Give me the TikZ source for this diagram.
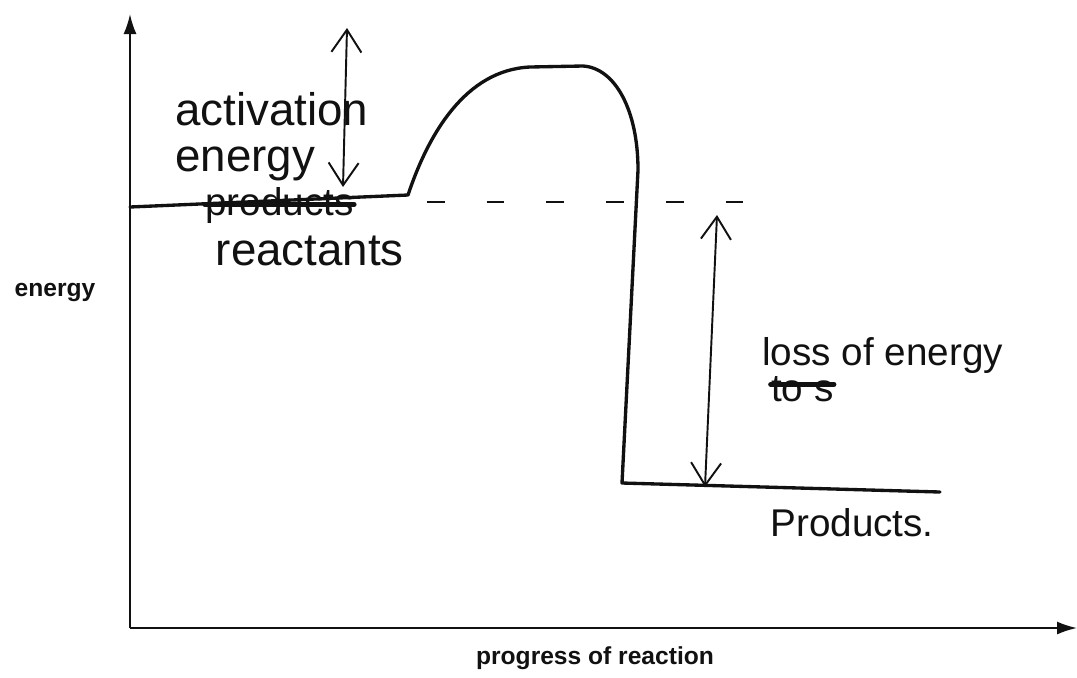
\documentclass[tikz,border=0pt]{standalone}
\usepackage{fontspec}
\setmainfont{Liberation Sans}
\usetikzlibrary{arrows.meta, positioning}
\definecolor{inkdark}{HTML}{111111}
\tikzset{
  axisline/.style={-{Latex[length=4mm, width=2.6mm]}, line width=1.1pt, inkdark},
  curve/.style={line width=1.9pt, inkdark, line join=round, line cap=round},
  level/.style={dash pattern=on 10pt off 24pt, line width=1.1pt, inkdark},
  span/.style={{Straight Barb[length=4.5mm, width=6mm]}-{Straight Barb[length=4.5mm, width=6mm]},
    line width=1.1pt, inkdark},
  axlabel/.style={font=\bfseries\fontsize{14}{16}\selectfont, text=inkdark, inner sep=0pt},
  hand/.style={font=\fontsize{26}{28}\selectfont, text=inkdark, inner sep=0pt},
  handsm/.style={font=\fontsize{22}{24}\selectfont, text=inkdark, inner sep=0pt},
  strike/.style={line width=3pt, inkdark, line cap=round},
}

\begin{document}
\begin{tikzpicture}[x=0.02cm, y=-0.02cm]
        \useasboundingbox (0,0) rectangle (1077,677);
        % axes
        \coordinate (orig) at (130,628);
        \coordinate (ytop) at (130,14);
        \coordinate (xend) at (1077,628);
        \draw[axisline] (orig) -- (ytop);
        \draw[axisline] (orig) -- (xend);
        \node[axlabel] (ylab) at (55,292) {energy};
        \node[axlabel] (xlab) at (595,658) {progress of reaction};
        % energy profile
        \coordinate (r0) at (130,207);
        \coordinate (r1) at (408,195);
        \coordinate (pkl) at (530,67);
        \coordinate (pkr) at (583,66);
        \coordinate (dn) at (638,170);
        \coordinate (p0) at (622,483);
        \coordinate (p1) at (940,492);
        \draw[curve] (r0) -- (r1) .. controls (428,135) and (465,70) .. (pkl) -- (pkr)
          .. controls (615,68) and (638,110) .. (dn) -- (p0) -- (p1);
        \coordinate (d0) at (427,202);
        \coordinate (d1) at (752,202);
        \draw[level] (d0) -- (d1);
        % arrows
        \coordinate (aTop) at (347,28);
        \coordinate (aBot) at (343,187);
        \coordinate (lTop) at (717,215);
        \coordinate (lBot) at (705,487);
        \draw[span] (aTop) -- (aBot);
        \draw[span] (lTop) -- (lBot);
        % handwritten labels
        \node[hand, anchor=base west] (act) at (175,125) {activation};
        \node[hand, below=12pt of act.south west, anchor=north west] (acten) {energy};
        \node[handsm, anchor=base west] (prodold) at (205,215) {products};
        \draw[strike] ([yshift=6pt]prodold.base west) -- ([yshift=6pt]prodold.base east);
        \node[hand, below=29pt of prodold.base west, anchor=base west, xshift=6pt] (reac) {reactants};
        \node[handsm, anchor=base west] (loss) at (762,365) {loss of energy};
        \node[handsm, below=21pt of loss.base west, anchor=base west, xshift=5pt] (tos) {to s};
        \draw[strike] ([yshift=10pt]tos.base west) -- ([yshift=10pt]tos.base east);
        \node[handsm, anchor=base west] (prod) at (770,536) {Products.};
      \end{tikzpicture}
\end{document}
